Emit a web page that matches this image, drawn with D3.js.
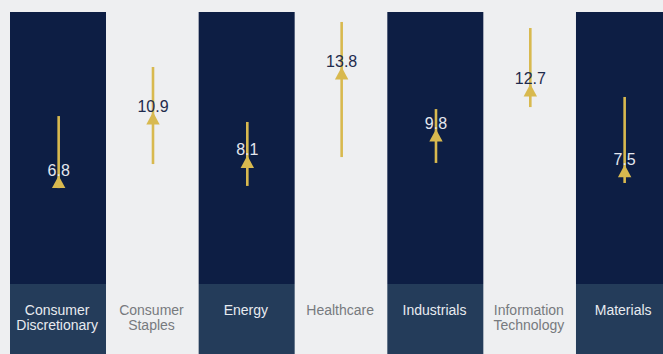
<!DOCTYPE html>
<html>
<head>
<meta charset="utf-8">
<script src="https://cdn.jsdelivr.net/npm/d3@7/dist/d3.min.js"></script>
<style>
  html, body { margin: 0; padding: 0; background: #eeeff1; }
  svg { display: block; }
</style>
</head>
<body>
<svg id="chart" width="663" height="354"></svg>
<script>
const categories = [
  ["Consumer", "Discretionary"],
  ["Consumer", "Staples"],
  ["Energy"],
  ["Healthcare"],
  ["Industrials"],
  ["Information", "Technology"],
  ["Materials"]
];
const values = [6.8, 10.9, 8.1, 13.8, 9.8, 12.7, 7.5];
const lows   = [6.8, 8.35, 6.94, 8.8, 8.42, 12.02, 7.13];
const highs  = [11.44, 14.6, 11.06, 17.5, 11.89, 17.11, 12.67];

(function () {
const W = 663, H = 354;
const svg = d3.select("#chart");
const keys = categories.map((c, i) => i);

const x = d3.scaleBand().domain(keys).range([10, 10 + 7 * 94.33]).padding(0);
const y = d3.scaleLinear().domain([0, 18]).range([293.7, 14.2]);

const colTop = 12, bandTop = 284;
const dark = i => i % 2 === 0;

svg.append("rect").attr("width", W).attr("height", H).attr("fill", "#eeeff1");

svg.selectAll("rect.col").data(keys.filter(dark)).join("rect")
  .attr("class", "col")
  .attr("x", i => x(i)).attr("y", colTop)
  .attr("width", 96).attr("height", bandTop - colTop)
  .attr("fill", "#0d1e44");

svg.selectAll("rect.band").data(keys.filter(dark)).join("rect")
  .attr("class", "band")
  .attr("x", i => x(i)).attr("y", bandTop)
  .attr("width", 96).attr("height", H - bandTop)
  .attr("fill", "#243c5a");

const cx = i => x(i) + x.bandwidth() / 2 + 1.5;
const gold = "#d8b94f";

svg.selectAll("line.rng").data(keys).join("line")
  .attr("class", "rng")
  .attr("x1", cx).attr("x2", cx)
  .attr("y1", i => y(highs[i])).attr("y2", i => y(lows[i]))
  .attr("stroke", gold).attr("stroke-width", 2.6);

svg.selectAll("path.tri").data(keys).join("path")
  .attr("class", "tri")
  .attr("d", i => {
    const bx = cx(i), by = y(values[i]);
    return `M${bx - 6.7},${by} L${bx + 6.7},${by} L${bx},${by - 12.4} Z`;
  })
  .attr("fill", gold);

svg.selectAll("text.val").data(keys).join("text")
  .attr("class", "val")
  .attr("x", cx)
  .attr("y", i => y(values[i]) - 12.5)
  .attr("text-anchor", "middle")
  .attr("font-family", "'Liberation Sans', Arial, sans-serif")
  .attr("font-size", 16)
  .attr("fill", i => dark(i) ? "#e4e7ee" : "#1f2b4d")
  .text(i => values[i].toFixed(1));

const lab = svg.selectAll("text.cat").data(keys).join("text")
  .attr("class", "cat")
  .attr("text-anchor", "middle")
  .attr("font-family", "'Liberation Sans', Arial, sans-serif")
  .attr("font-size", 14)
  .attr("fill", i => dark(i) ? "#e8ebf0" : "#777a7e");
lab.selectAll("tspan").data(i => categories[i].map(t => ({ t, i }))).join("tspan")
  .attr("x", d => cx(d.i) - 1.5)
  .attr("y", (d, j) => 315 + j * 15)
  .text(d => d.t);
})();
</script>
</body>
</html>
